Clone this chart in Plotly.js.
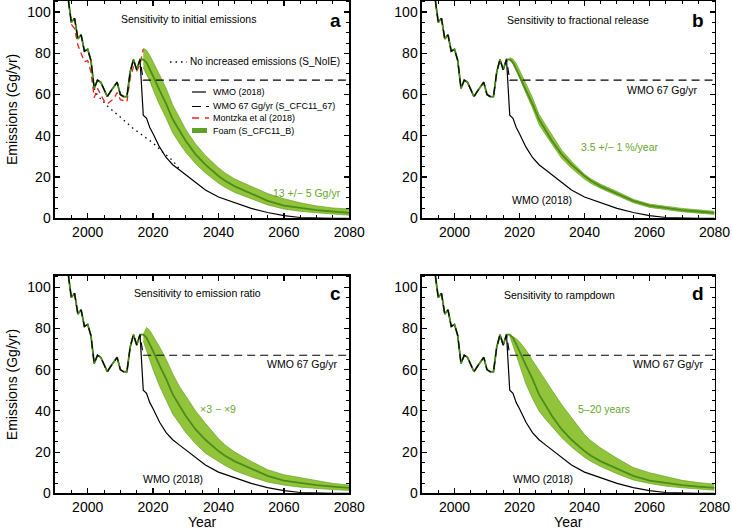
<!DOCTYPE html>
<html>
<head>
<meta charset="utf-8">
<script src="https://cdn.plot.ly/plotly-3.0.1.min.js"></script>
<style>
  html, body { margin: 0; padding: 0; background: #fff; }
  #myDiv { width: 732px; height: 530px; }
</style>
</head>
<body>
<div id="myDiv"></div>
<script>
// observed / WMO history (Gg/yr)
var histYears = [1990, 1991, 1992, 1993, 1994, 1995, 1996, 1997, 1998, 1999, 2000, 2001, 2002, 2003,
                 2004, 2005, 2006, 2007, 2008, 2009, 2010, 2011, 2012, 2013, 2014, 2015, 2016];
var histValues = [200, 175, 150, 128, 107, 95, 97, 87, 89, 81, 82, 76.5, 63, 67,
                  66, 62.5, 59, 61.5, 64, 66, 60, 59, 59, 71, 77, 72, 77];

// Montzka et al (2018), panel a only
var montzkaYears = [1995, 1996, 1997, 1998, 1999, 2000, 2001, 2002, 2003, 2004, 2005, 2006,
                    2007, 2008, 2009, 2010, 2011, 2012, 2013, 2014, 2015, 2016, 2017];
var montzkaValues = [94, 92, 84, 80, 76, 76.5, 71, 58.5, 63, 60, 57, 55.5,
                     57, 58, 61, 57.5, 57, 56.5, 68, 73.5, 71.5, 74.5, 82];

// no increased emissions (S_NoIE), panel a only
var noieYears = [2002, 2003, 2006, 2010, 2014, 2017, 2020, 2023, 2026, 2028];
var noieValues = [63, 59.5, 54.5, 49, 43.5, 40, 36.5, 32, 28, 24];

// projections
var projYears = [2017, 2018, 2019, 2020, 2022, 2024, 2026, 2028, 2030, 2033, 2036,
                 2040, 2042, 2045, 2050, 2055, 2060, 2065, 2070, 2075, 2080];
var wmoProj = [50, 48.5, 44, 41, 34.5, 29.5, 26, 23.5, 21, 17, 13.7,
               10.3, 9.2, 7.3, 4.8, 2.8, 1.3, 0.4, 0.1, 0, 0];
var wmo67Years = [2017, 2080];
var wmo67Values = [67, 67];
var foamCentral = [77, 75.5, 72.5, 69, 62, 55.5, 48, 42.5, 37.5, 31, 26,
                   20.5, 18.2, 15.5, 12, 8.5, 6.2, 5, 4, 3.3, 2.6];

// a: initial emissions 13 +/- 5 Gg/yr
var bandAHi = [82.5, 81.5, 79, 76, 69.5, 63, 55, 49, 43, 36, 30.5,
               24.5, 22, 19, 15.5, 12, 9.5, 7.5, 6, 5, 4.5];
var bandALo = [73, 70, 66.5, 62.5, 55, 48.5, 41.5, 36.5, 32, 26.5, 22,
               17, 15, 12.5, 9.5, 6.5, 4.5, 3.4, 2.7, 2.1, 1.5];
// b: fractional release 3.5 +/- 1 %/year
var bandBHi = [78, 77.2, 75.1, 72, 65.3, 58.5, 50.5, 45.4, 40.2, 33, 27.7,
               21.4, 19.1, 16.5, 13, 9.2, 6.9, 5.7, 4.8, 4.1, 3.4];
var bandBLo = [77, 74.8, 71.9, 68, 60.7, 53.5, 45.5, 40.6, 35.8, 29, 24.3,
               19, 16.9, 14.5, 11, 7.6, 5.3, 4.1, 3.2, 2.5, 1.9];
// c: emission ratio x3 - x9
var bandCHi = [77, 80.5, 79, 76.5, 71, 65, 58, 52, 47, 40, 34,
               26.5, 23.5, 20, 15.5, 11.5, 9, 7.5, 6, 4.8, 4];
var bandCLo = [74, 69, 65, 60, 52, 45, 38.5, 34, 29.5, 24, 19.5,
               15.5, 13.5, 11, 8, 5.5, 4, 3, 2.3, 1.8, 1.4];
// d: rampdown 5-20 years
var bandDHi = [77, 76, 75, 73.5, 69.5, 64.5, 59.5, 55, 50, 43, 37,
               28.5, 25.5, 22, 17, 12.5, 10, 8, 6.3, 5.2, 4.4];
var bandDLo = [76.5, 72, 67, 62, 53, 46, 40, 36, 32.5, 27, 22.5,
               17.5, 15.5, 13, 9.5, 6.5, 4.8, 3.5, 2.7, 2, 1.5];

var FONT = 'Liberation Sans, Arial, Helvetica, sans-serif';
var BAND = 'rgb(145,196,58)';
var BAND_EDGE = 'rgb(104,162,36)';
var FOAM = 'rgb(76,140,26)';
var GREEN_TXT = 'rgb(104,166,44)';
var RED = 'rgb(238,32,28)';

function panelTraces(n, lo, hi, extra) {
  var xa = n === 1 ? 'x' : 'x' + n, ya = n === 1 ? 'y' : 'y' + n;
  var t = [];
  t.push({x: projYears, y: lo, xaxis: xa, yaxis: ya, type: 'scatter', mode: 'lines',
          line: {color: BAND_EDGE, width: 0.7}});
  t.push({x: projYears, y: hi, xaxis: xa, yaxis: ya, type: 'scatter', mode: 'lines',
          fill: 'tonexty', fillcolor: BAND, line: {color: BAND_EDGE, width: 0.7}});
  if (extra) extra(xa, ya, t);
  t.push({x: histYears.concat(projYears), y: histValues.concat(wmoProj), xaxis: xa, yaxis: ya,
          type: 'scatter', mode: 'lines', line: {color: '#000', width: 1.2}});
  t.push({x: histYears.concat(projYears), y: histValues.concat(foamCentral), xaxis: xa, yaxis: ya,
          type: 'scatter', mode: 'lines', line: {color: FOAM, width: 1.8}});
  t.push({x: histYears.concat(wmo67Years), y: histValues.concat(wmo67Values), xaxis: xa, yaxis: ya,
          type: 'scatter', mode: 'lines', line: {color: '#000', width: 1.2, dash: '8px,5px'}});
  return t;
}

var data = [].concat(
  panelTraces(1, bandALo, bandAHi, function (xa, ya, t) {
    t.push({x: noieYears, y: noieValues, xaxis: xa, yaxis: ya, type: 'scatter', mode: 'lines',
            line: {color: '#000', width: 1.3, dash: '1.5px,4px'}});
    t.push({x: montzkaYears, y: montzkaValues, xaxis: xa, yaxis: ya, type: 'scatter', mode: 'lines',
            line: {color: RED, width: 1.3, dash: '6px,4px'}});
  }),
  panelTraces(2, bandBLo, bandBHi),
  panelTraces(3, bandCLo, bandCHi),
  panelTraces(4, bandDLo, bandDHi)
);

function xAxis(domain, anchor, title) {
  return {
    domain: domain, anchor: anchor, range: [1990, 2080], tick0: 2000, dtick: 20,
    ticks: 'inside', ticklen: 5, tickwidth: 1.2, tickcolor: '#000',
    minor: {dtick: 5, ticks: 'inside', ticklen: 3, tickwidth: 1, tickcolor: '#000'},
    showline: true, linecolor: '#000', linewidth: 1.5, mirror: 'allticks',
    showgrid: false, zeroline: false, fixedrange: true,
    tickfont: {family: FONT, size: 14, color: '#000'},
    title: {text: title, font: {family: FONT, size: 14, color: '#000'}, standoff: 2}
  };
}
function yAxis(domain, anchor, title) {
  return {
    domain: domain, anchor: anchor, range: [0, 105.6], tick0: 0, dtick: 20,
    ticks: 'inside', ticklen: 5, tickwidth: 1.2, tickcolor: '#000',
    minor: {dtick: 5, ticks: 'inside', ticklen: 3, tickwidth: 1, tickcolor: '#000'},
    showline: true, linecolor: '#000', linewidth: 1.5, mirror: 'allticks',
    showgrid: false, zeroline: false, fixedrange: true,
    tickfont: {family: FONT, size: 14, color: '#000'},
    title: {text: title, font: {family: FONT, size: 14, color: '#000'}, standoff: 6}
  };
}

var colLeft = [0.0751, 0.4772], colRight = [0.5765, 0.9761];
var rowTop = [0.5881, 0.999], rowBottom = [0.0692, 0.4798];

function pxX(x) { return x / 732; }
function pxY(y) { return 1 - y / 530; }
function note(x, y, text, opts) {
  opts = opts || {};
  return {
    xref: 'paper', yref: 'paper', x: pxX(x), y: pxY(y), text: text, showarrow: false,
    xanchor: opts.anchor || 'center', yanchor: 'middle',
    font: {family: FONT, size: opts.size || 10.5, color: opts.color || '#000'}
  };
}
function letter(x, y, s) {
  return note(x, y, '<b>' + s + '</b>', {size: 19});
}

var annotations = [
  // a
  note(188, 18.5, 'Sensitivity to initial emissions'),
  letter(335, 20.5, 'a'),
  note(342, 62, 'No increased emissions (S_NoIE)', {anchor: 'right', size: 10}),
  note(211, 92, 'WMO (2018)', {anchor: 'left', size: 9}),
  note(211, 106, 'WMO 67 Gg/yr (S_CFC11_67)', {anchor: 'left', size: 9}),
  note(211, 118, 'Montzka et al (2018)', {anchor: 'left', size: 9}),
  note(211, 130.5, 'Foam (S_CFC11_B)', {anchor: 'left', size: 9}),
  note(307, 192.5, '13 +/\u2212 5 Gg/yr', {color: GREEN_TXT}),
  // b
  note(578, 20, 'Sensitivity to fractional release'),
  letter(698, 21, 'b'),
  note(662, 90, 'WMO 67 Gg/yr'),
  note(620, 147, '3.5 +/\u2212 1 %/year', {color: GREEN_TXT}),
  note(542, 200, 'WMO (2018)'),
  // c
  note(197, 293, 'Sensitivity to emission ratio'),
  letter(335, 293, 'c'),
  note(302, 363.5, 'WMO 67 Gg/yr'),
  note(218, 409, '\u00d73 \u2212 \u00d79', {color: GREEN_TXT}),
  note(173, 479, 'WMO (2018)'),
  // d
  note(559, 295, 'Sensitivity to rampdown'),
  letter(698, 293, 'd'),
  note(668, 364, 'WMO 67 Gg/yr'),
  note(604, 408.5, '5\u201320 years', {color: GREEN_TXT}),
  note(543, 478.5, 'WMO (2018)')
];

// legend samples for panel a
function sample(x0, x1, y, line) {
  return {type: 'line', xref: 'paper', yref: 'paper', x0: pxX(x0), x1: pxX(x1),
          y0: pxY(y), y1: pxY(y), line: line};
}
var shapes = [
  sample(170, 187, 62, {color: '#000', width: 1.3, dash: '1.5px,4px'}),
  sample(192, 206, 92, {color: '#000', width: 1.2}),
  sample(192, 209, 106.5, {color: '#000', width: 1.2, dash: '9px,5px'}),
  sample(192, 209, 118, {color: RED, width: 1.6, dash: '7px,6px'}),
  sample(192, 207, 130.5, {color: 'rgb(96,160,40)', width: 5})
];

var layout = {
  width: 732, height: 530,
  margin: {l: 0, r: 0, t: 0, b: 0},
  paper_bgcolor: '#fff', plot_bgcolor: '#fff',
  showlegend: false,
  font: {family: FONT, color: '#000'},
  xaxis: xAxis(colLeft, 'y', ''),
  yaxis: yAxis(rowTop, 'x', 'Emissions (Gg/yr)'),
  xaxis2: xAxis(colRight, 'y2', ''),
  yaxis2: yAxis(rowTop, 'x2', ''),
  xaxis3: xAxis(colLeft, 'y3', 'Year'),
  yaxis3: yAxis(rowBottom, 'x3', 'Emissions (Gg/yr)'),
  xaxis4: xAxis(colRight, 'y4', 'Year'),
  yaxis4: yAxis(rowBottom, 'x4', ''),
  annotations: annotations,
  shapes: shapes
};

Plotly.newPlot('myDiv', data, layout, {staticPlot: true, displayModeBar: false});
</script>
</body>
</html>
